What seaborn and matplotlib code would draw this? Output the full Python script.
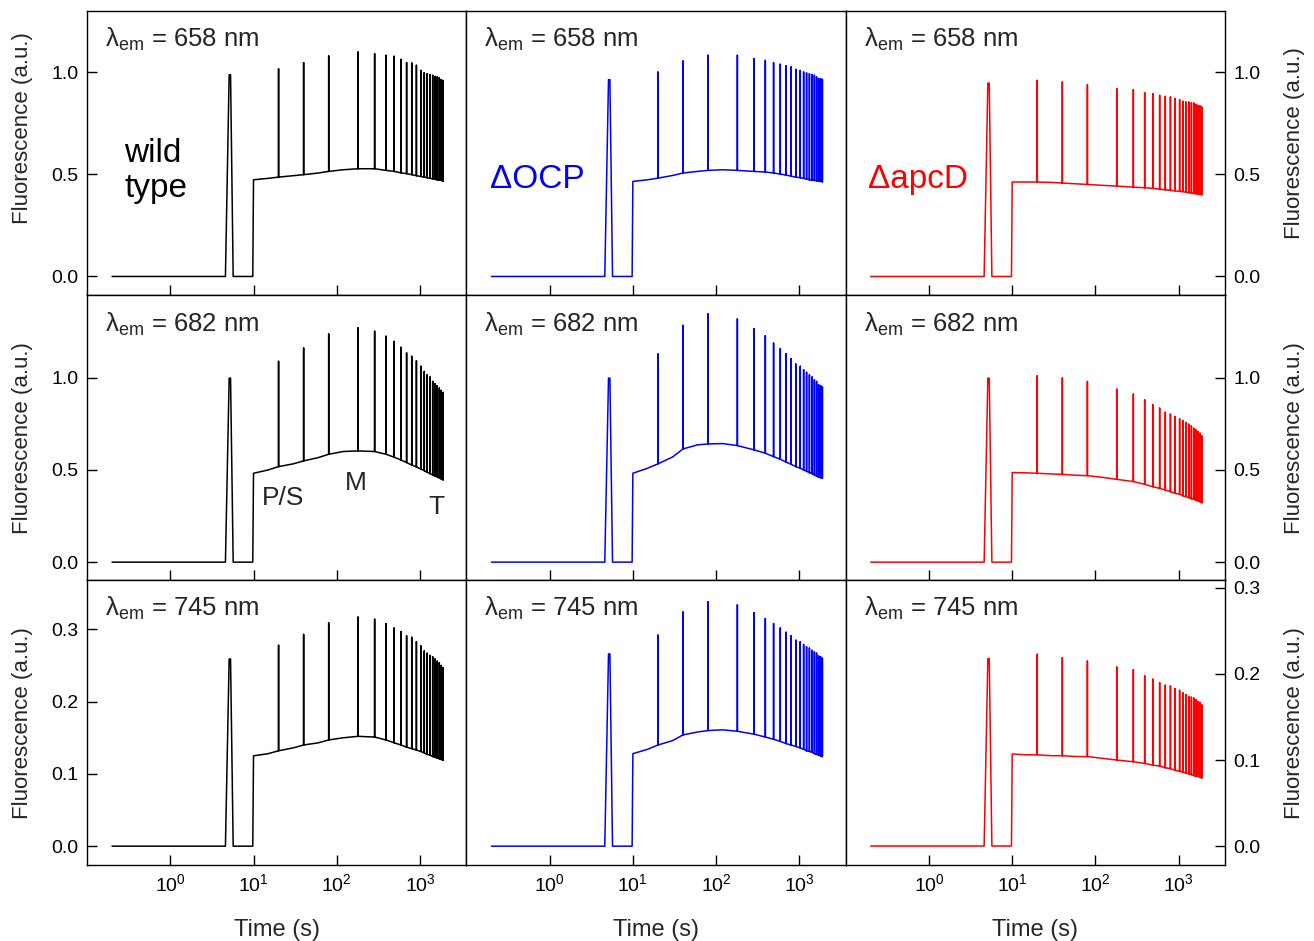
import matplotlib.pyplot as plt
import seaborn as sns
import pandas as pd
from matplotlib.ticker import NullLocator

sns.set_theme(style="ticks", rc={"axes.edgecolor": "black", "axes.linewidth": 1.0,
                                 "xtick.color": "black", "ytick.color": "black"})
plt.rcParams['font.family'] = ['Liberation Sans', 'DejaVu Sans']
plt.rcParams['mathtext.fontset'] = 'custom'
plt.rcParams['mathtext.rm'] = 'Liberation Sans'
plt.rcParams['mathtext.it'] = 'Liberation Sans:italic'
plt.rcParams['mathtext.bf'] = 'Liberation Sans:bold'

# --- time points (s) ---
flash_t = [0.2, 4.6, 5.1, 5.3, 5.7, 9.8]
base_t = [10, 15, 20, 30, 40, 60, 80, 120, 180, 285, 390, 490, 590, 690, 795, 905,
          1025, 1125, 1220, 1320, 1420, 1515, 1610, 1705, 1800, 1890]
pulse_t = [20, 40, 80, 180, 285, 390, 490, 590, 690, 795, 905, 1025, 1125, 1220,
           1320, 1420, 1515, 1610, 1705, 1800, 1890]

strains = ['wild type', 'ΔOCP', 'ΔapcD']
strain_colors = ['black', '#0000ff', '#ff0000']
wavelengths = [658, 682, 745]

# first (dark-adapted) flash peak
flash_peak = [[0.987, 0.963, 0.946],
              [0.998, 0.998, 0.998],
              [0.259, 0.266, 0.218]]

# wild type
wt_658_base = [0.473, 0.480, 0.486, 0.493, 0.498, 0.506, 0.514, 0.522, 0.527, 0.527, 0.519, 0.514, 0.507,
               0.503, 0.498, 0.493, 0.489, 0.486, 0.483, 0.480, 0.478, 0.475, 0.473, 0.471, 0.470, 0.467]
wt_658_peak = [1.016, 1.046, 1.079, 1.098, 1.090, 1.082, 1.077, 1.062, 1.046, 1.044, 1.033, 1.008, 0.997,
               0.992, 0.987, 0.984, 0.979, 0.976, 0.972, 0.963, 0.959]
wt_682_base = [0.482, 0.500, 0.518, 0.533, 0.549, 0.567, 0.585, 0.600, 0.603, 0.600, 0.585, 0.569, 0.554,
               0.540, 0.527, 0.516, 0.505, 0.496, 0.487, 0.480, 0.473, 0.467, 0.462, 0.457, 0.451, 0.446]
wt_682_peak = [1.089, 1.161, 1.237, 1.270, 1.252, 1.225, 1.197, 1.165, 1.134, 1.116, 1.092, 1.062, 1.034,
               1.016, 1.004, 0.980, 0.967, 0.957, 0.944, 0.931, 0.920]
wt_745_base = [0.125, 0.128, 0.132, 0.136, 0.140, 0.143, 0.147, 0.150, 0.152, 0.151, 0.147, 0.143, 0.140,
               0.137, 0.135, 0.133, 0.131, 0.129, 0.127, 0.126, 0.124, 0.123, 0.122, 0.121, 0.120, 0.119]
wt_745_peak = [0.278, 0.293, 0.309, 0.317, 0.314, 0.308, 0.302, 0.297, 0.291, 0.289, 0.283, 0.277, 0.270,
               0.267, 0.264, 0.262, 0.259, 0.256, 0.254, 0.250, 0.247]

# delta OCP
ocp_658_base = [0.465, 0.473, 0.481, 0.494, 0.506, 0.514, 0.519, 0.522, 0.519, 0.514, 0.511, 0.506, 0.501,
                0.496, 0.491, 0.486, 0.483, 0.480, 0.476, 0.473, 0.471, 0.470, 0.468, 0.467, 0.465, 0.463]
ocp_658_peak = [1.000, 1.054, 1.082, 1.082, 1.065, 1.057, 1.046, 1.038, 1.030, 1.025, 1.013, 1.008, 1.000,
                0.995, 0.992, 0.987, 0.984, 0.976, 0.968, 0.968, 0.964]
ocp_682_base = [0.482, 0.509, 0.533, 0.570, 0.614, 0.636, 0.641, 0.643, 0.632, 0.609, 0.591, 0.572, 0.558,
                0.543, 0.531, 0.518, 0.509, 0.500, 0.493, 0.485, 0.480, 0.473, 0.467, 0.462, 0.458, 0.455]
ocp_682_peak = [1.129, 1.284, 1.346, 1.319, 1.266, 1.228, 1.188, 1.158, 1.130, 1.103, 1.074, 1.062, 1.043,
                1.029, 1.016, 1.004, 0.989, 0.980, 0.962, 0.957, 0.949]
ocp_745_base = [0.128, 0.134, 0.140, 0.146, 0.154, 0.158, 0.160, 0.161, 0.159, 0.155, 0.151, 0.148, 0.145,
                0.142, 0.140, 0.138, 0.136, 0.134, 0.132, 0.131, 0.130, 0.128, 0.127, 0.126, 0.125, 0.124]
ocp_745_peak = [0.292, 0.324, 0.338, 0.334, 0.323, 0.315, 0.308, 0.302, 0.296, 0.291, 0.285, 0.283, 0.279,
                0.276, 0.274, 0.271, 0.269, 0.267, 0.263, 0.262, 0.260]

# delta apcD
apcd_658_base = [0.462, 0.462, 0.462, 0.460, 0.457, 0.453, 0.450, 0.446, 0.442, 0.437, 0.434, 0.431, 0.427,
                 0.424, 0.421, 0.419, 0.416, 0.415, 0.413, 0.410, 0.408, 0.406, 0.405, 0.403, 0.401, 0.400]
apcd_658_peak = [0.959, 0.951, 0.938, 0.919, 0.914, 0.899, 0.894, 0.886, 0.881, 0.878, 0.870, 0.865, 0.857,
                 0.853, 0.853, 0.850, 0.848, 0.842, 0.837, 0.834, 0.829]
apcd_682_base = [0.486, 0.484, 0.482, 0.478, 0.476, 0.471, 0.469, 0.460, 0.449, 0.437, 0.422, 0.409, 0.400,
                 0.391, 0.382, 0.373, 0.368, 0.360, 0.355, 0.350, 0.344, 0.341, 0.337, 0.332, 0.328, 0.322]
apcd_682_peak = [1.011, 0.998, 0.980, 0.938, 0.911, 0.880, 0.853, 0.835, 0.813, 0.802, 0.790, 0.777, 0.768,
                 0.757, 0.748, 0.739, 0.726, 0.717, 0.708, 0.699, 0.685]
apcd_745_base = [0.107, 0.106, 0.106, 0.105, 0.105, 0.104, 0.104, 0.102, 0.100, 0.098, 0.096, 0.094, 0.093,
                 0.091, 0.090, 0.088, 0.087, 0.086, 0.085, 0.084, 0.083, 0.082, 0.081, 0.081, 0.080, 0.079]
apcd_745_peak = [0.223, 0.219, 0.215, 0.208, 0.205, 0.198, 0.194, 0.190, 0.187, 0.186, 0.183, 0.181, 0.178,
                 0.176, 0.174, 0.173, 0.172, 0.170, 0.168, 0.167, 0.164]

base_grid = [[wt_658_base, ocp_658_base, apcd_658_base],
             [wt_682_base, ocp_682_base, apcd_682_base],
             [wt_745_base, ocp_745_base, apcd_745_base]]
peak_grid = [[wt_658_peak, ocp_658_peak, apcd_658_peak],
             [wt_682_peak, ocp_682_peak, apcd_682_peak],
             [wt_745_peak, ocp_745_peak, apcd_745_peak]]

row_ylim = [(-0.093, 1.30), (-0.098, 1.446), (-0.026, 0.368)]
row_yticks = [[0.0, 0.5, 1.0], [0.0, 0.5, 1.0], [0.0, 0.1, 0.2, 0.3]]
apcd_745_ylim = (-0.022, 0.309)

# y-label vertical centre (axes fraction) for left / right columns, per row
ylabel_y_left = [0.588, 0.5, 0.5]
ylabel_y_right = [0.537, 0.5, 0.5]


def build_trace(f_peak, base, peaks):
    t, f = [], []
    for ti, fi in zip(flash_t, [0, 0, f_peak, f_peak, 0, 0]):
        t.append(ti)
        f.append(fi)
    pk = dict(zip(pulse_t, peaks))
    for ti, bi in zip(base_t, base):
        t.append(ti)
        f.append(bi)
        if ti in pk:
            t += [ti, ti]
            f += [pk[ti], bi]
    return pd.DataFrame({'Time': t, 'F': f})


fig, axes = plt.subplots(3, 3, figsize=(13.14, 9.41), dpi=100, sharex=True)
fig.subplots_adjust(left=0.0662, right=0.9323, top=0.9886, bottom=0.0808, wspace=0, hspace=0)

for r in range(3):
    for c in range(3):
        ax = axes[r, c]
        df = build_trace(flash_peak[r][c], base_grid[r][c], peak_grid[r][c])
        sns.lineplot(data=df, x='Time', y='F', sort=False, estimator=None, ax=ax,
                     color=strain_colors[c], lw=1.1)
        ax.set_xscale('log')
        ax.set_xlim(0.1, 3600)
        ax.set_xticks([1, 10, 100, 1000])
        ax.xaxis.set_minor_locator(NullLocator())
        if r == 2 and c == 2:
            ax.set_ylim(*apcd_745_ylim)
        else:
            ax.set_ylim(*row_ylim[r])
        ax.set_yticks(row_yticks[r])
        ax.yaxis.set_minor_locator(NullLocator())
        ax.tick_params(direction='in', length=7, width=1, labelsize=14, pad=6)
        ax.set_xlabel('')
        ax.set_ylabel('')
        for sp in ax.spines.values():
            sp.set_visible(True)
            sp.set_color('black')
            sp.set_linewidth(1.0)

        if c == 0:
            ax.tick_params(axis='y', left=True, right=False, labelleft=True, labelright=False)
            ax.set_ylabel('Fluorescence (a.u.)', fontsize=16)
            ax.yaxis.set_label_coords(-0.142, ylabel_y_left[r])
        elif c == 1:
            ax.tick_params(axis='y', left=False, right=False, labelleft=False, labelright=False)
        else:
            ax.yaxis.tick_right()
            ax.yaxis.set_label_position('right')
            ax.tick_params(axis='y', left=False, right=True, labelleft=False, labelright=True)
            ax.set_ylabel('Fluorescence (a.u.)', fontsize=16)
            ax.yaxis.set_label_coords(1.156, ylabel_y_right[r])

        ax.tick_params(axis='x', bottom=True, top=False)
        if r == 2:
            ax.set_xlabel('Time (s)', fontsize=17, labelpad=17)

        ax.text(0.047, 0.874, r'λ$_{\mathrm{em}}$ = %d nm' % wavelengths[r],
                transform=ax.transAxes, fontsize=18.5, ha='left', va='baseline')

# strain names (top row)
axes[0, 0].text(0.098, 0.470, 'wild', transform=axes[0, 0].transAxes, fontsize=24,
                ha='left', va='baseline', color='black')
axes[0, 0].text(0.098, 0.347, 'type', transform=axes[0, 0].transAxes, fontsize=24,
                ha='left', va='baseline', color='black')
axes[0, 1].text(0.0625, 0.377, strains[1], transform=axes[0, 1].transAxes, fontsize=24,
                ha='left', va='baseline', color=strain_colors[1])
axes[0, 2].text(0.059, 0.377, strains[2], transform=axes[0, 2].transAxes, fontsize=24,
                ha='left', va='baseline', color=strain_colors[2])

# phase labels (wild type, 682 nm)
axes[1, 0].text(0.461, 0.263, 'P/S', transform=axes[1, 0].transAxes, fontsize=19,
                ha='left', va='baseline')
axes[1, 0].text(0.708, 0.316, 'M', transform=axes[1, 0].transAxes, fontsize=19,
                ha='center', va='baseline')
axes[1, 0].text(0.920, 0.234, 'T', transform=axes[1, 0].transAxes, fontsize=19,
                ha='center', va='baseline')

fig.savefig('out.png', dpi=100)
